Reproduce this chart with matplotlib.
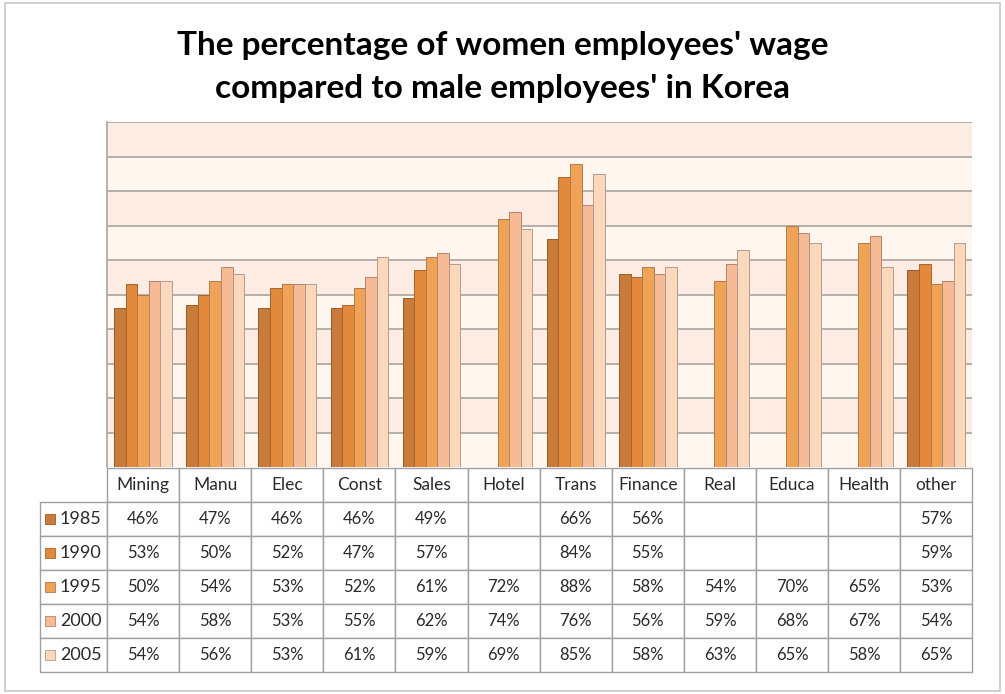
import numpy as np
import matplotlib.pyplot as plt
from matplotlib.patches import Rectangle

plt.rcParams['font.family'] = ['Lato', 'DejaVu Sans']

categories = ["Mining", "Manu", "Elec", "Const", "Sales", "Hotel",
              "Trans", "Finance", "Real", "Educa", "Health", "other"]
years = ["1985", "1990", "1995", "2000", "2005"]
nan = np.nan
wage_1985 = [46, 47, 46, 46, 49, nan, 66, 56, nan, nan, nan, 57]
wage_1990 = [53, 50, 52, 47, 57, nan, 84, 55, nan, nan, nan, 59]
wage_1995 = [50, 54, 53, 52, 61, 72, 88, 58, 54, 70, 65, 53]
wage_2000 = [54, 58, 53, 55, 62, 74, 76, 56, 59, 68, 67, 54]
wage_2005 = [54, 56, 53, 61, 59, 69, 85, 58, 63, 65, 58, 65]
series = [wage_1985, wage_1990, wage_1995, wage_2000, wage_2005]

colors = ["#c97b3c", "#e2893b", "#f0a256", "#f6bb94", "#fbd7bc"]
edges = ["#9a5a2a", "#a8642c", "#b07a4a", "#b0866e", "#b89a88"]

fig = plt.figure(figsize=(10.05, 6.94), dpi=100)
fig.patches.append(Rectangle((0.005, 0.005), 0.99, 0.99, transform=fig.transFigure,
                             fill=False, edgecolor="#c8c8c8", linewidth=1.2))

ax = fig.add_axes([0.1065, 0.327, 0.861, 0.497])
x = np.arange(len(categories))
w = 0.16

# striped background between gridlines
for k in range(10):
    ax.axhspan(k * 10, (k + 1) * 10, color="#fdece3" if k % 2 else "#fef6ef",
               zorder=0, linewidth=0)
for k in range(1, 11):
    ax.axhline(k * 10, color="#b0aaa6", linewidth=1.3, zorder=1)

for i, vals in enumerate(series):
    ax.bar(x + (i - 2) * w, vals, width=w, color=colors[i], edgecolor=edges[i],
           linewidth=0.7, zorder=2)

ax.set_xlim(-0.5, len(categories) - 0.5)
ax.set_ylim(0, 100)
ax.set_xticks([])
ax.set_yticks([])
for s in ["top", "right", "bottom"]:
    ax.spines[s].set_visible(False)
ax.spines["left"].set_color("#b0aaa6")
ax.spines["left"].set_linewidth(1.3)

# data table under the bars
cell_text = []
for yr, vals in zip(years, series):
    cell_text.append([yr] + ["" if np.isnan(v) else f"{int(v)}%" for v in vals])
col_labels = [""] + categories
left = -67 / 865
tbl = ax.table(cellText=cell_text, colLabels=col_labels, cellLoc="center",
               colWidths=[67] + [72.1] * len(categories),
               bbox=[left, -0.594, 1 - left, 0.59])
tbl.auto_set_font_size(False)
tbl.set_fontsize(12)
for (r, c), cell in tbl.get_celld().items():
    cell.set_edgecolor("#a0a0a0")
    cell.set_linewidth(1.0)
    cell.get_text().set_color("#2a2a2a")
    if r == 0:
        cell.get_text().set_fontsize(12.5)
    if r == 0 and c == 0:
        cell.visible_edges = ""
    if c == 0 and r > 0:
        cell.get_text().set_horizontalalignment("right")
        cell.PAD = 0.08
        cell.get_text().set_fontsize(13)

# colour keys in front of the years
row_h = 0.59 / 6
for i in range(len(years)):
    yc = -0.594 + row_h * (4 - i + 0.5)
    ax.scatter([left + 0.011], [yc], marker="s", s=42, color=colors[i],
               edgecolor=edges[i], linewidth=0.6, transform=ax.transAxes,
               clip_on=False, zorder=5)

fig.text(0.5, 0.935, "The percentage of women employees' wage",
         ha="center", va="center", fontsize=24, fontweight="bold")
fig.text(0.5, 0.872, "compared to male employees' in Korea",
         ha="center", va="center", fontsize=24, fontweight="bold")

fig.savefig("out.png", dpi=100)
